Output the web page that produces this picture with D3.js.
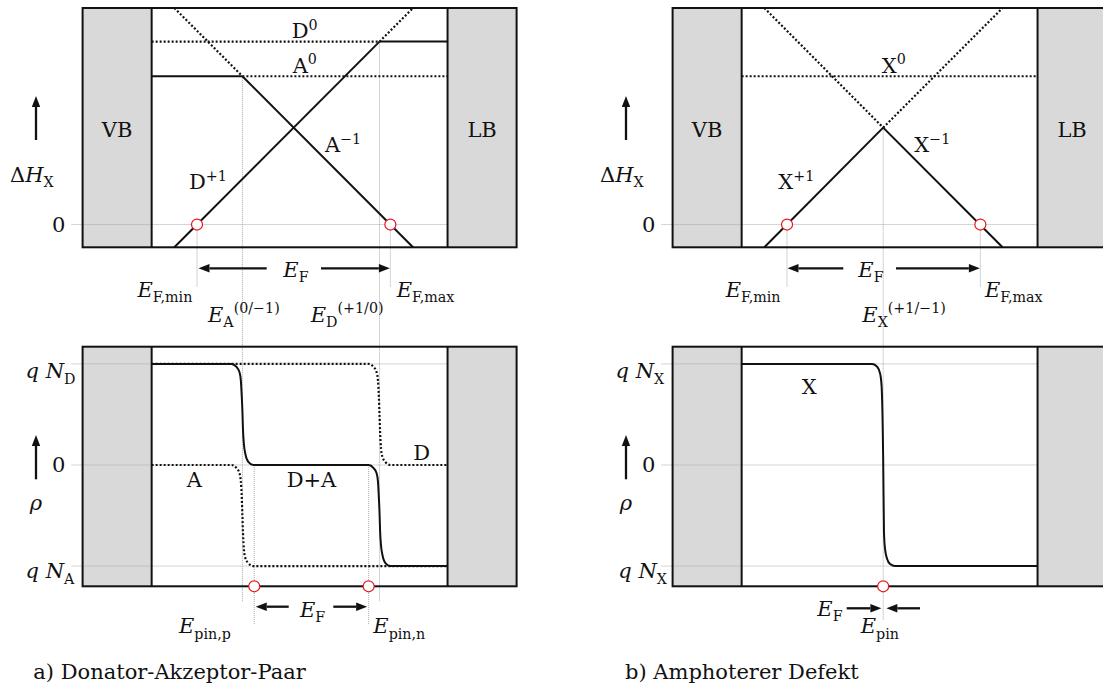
<!DOCTYPE html>
<html><head><meta charset="utf-8">
<script src="https://cdn.jsdelivr.net/npm/d3@7"></script>
<style>
body{margin:0;background:#fff}
text{font-family:"DejaVu Serif",serif;fill:#111}
</style>
</head><body><svg id="c" width="1103" height="688"></svg>
<script>
// ------------------------------------------------------------------
// DATA  (energy E: VB edge = 0, LB edge = 3; formation energy ΔH and
//        charge density ρ in arbitrary units read from the figure)
// ------------------------------------------------------------------
const bandEdges      = [0, 3.0];
const energyExtent   = [-0.7, 3.7];
const dHExtent       = [-0.23, 2.19];
const rhoExtent      = [-1.2, 1.17];
const rhoLevels      = [1, 0, -1];

// a) donor-acceptor pair
const levelEA   = 0.92;   // E_A(0/-1)
const levelED   = 2.31;   // E_D(+1/0)
const efMinA    = 0.46;
const efMaxA    = 2.42;
const pinP      = 1.04;
const pinN      = 2.20;
const donorZeroSolid   = [[2.31, 1.85], [3.0, 1.85]];
const donorZeroDotted  = [[0.0, 1.85], [2.31, 1.85]];
const donorPlusSolid   = [[0.23, -0.23], [2.31, 1.85]];
const donorPlusDotted  = [[2.31, 1.85], [2.65, 2.19]];
const accZeroSolid     = [[0.0, 1.50], [0.92, 1.50]];
const accZeroDotted    = [[0.92, 1.50], [3.0, 1.50]];
const accMinusSolid    = [[0.92, 1.50], [2.65, -0.23]];
const accMinusDotted   = [[0.23, 2.19], [0.92, 1.50]];
const rhoDonor = [[0,1],[2.20,1],[2.25,0.97],[2.28,0.92],[2.294,0.84],[2.304,0.67],[2.31,0.5],
                  [2.316,0.33],[2.326,0.16],[2.34,0.08],[2.37,0.03],[2.42,0],[3.0,0]];
const rhoAcceptor = [[0,0],[0.81,0],[0.86,-0.03],[0.89,-0.08],[0.904,-0.16],[0.914,-0.33],[0.92,-0.5],
                  [0.926,-0.67],[0.936,-0.84],[0.95,-0.92],[0.98,-0.97],[1.03,-1],[3.0,-1]];
const rhoSum = [[0,1],[0.81,1],[0.86,0.97],[0.89,0.92],[0.904,0.84],[0.914,0.67],[0.92,0.54],
                [0.926,0.35],[0.936,0.2],[0.95,0.11],[0.98,0.03],[1.03,0],[2.20,0],[2.25,-0.03],
                [2.28,-0.08],[2.294,-0.16],[2.304,-0.33],[2.31,-0.46],[2.316,-0.65],[2.326,-0.8],
                [2.34,-0.89],[2.37,-0.97],[2.42,-1],[3.0,-1]];

// b) amphoteric defect
const levelEX   = 1.435;  // E_X(+1/-1)
const efMinB    = 0.46;
const efMaxB    = 2.42;
const pinX      = 1.435;
const xZeroDotted  = [[0.0, 1.50], [3.0, 1.50]];
const xPlusSolid   = [[0.23, -0.23], [1.435, 0.98]];
const xPlusDotted  = [[1.435, 0.98], [2.645, 2.19]];
const xMinusSolid  = [[1.435, 0.98], [2.645, -0.23]];
const xMinusDotted = [[0.23, 2.19], [1.435, 0.98]];
const rhoX = [[0,1],[1.325,1],[1.375,0.97],[1.405,0.9],[1.419,0.78],[1.435,0.05],[1.443,-0.67],
              [1.455,-0.84],[1.475,-0.93],[1.505,-0.98],[1.555,-1],[3.0,-1]];

// ------------------------------------------------------------------
const svg = d3.select("#c");
const INK = "#111", GRID = "#a8a8a8", GAP = "#d9d9d9";
const FS = 21;

function rich(g, x, y, parts, anchor = "start", size = FS) {
  const t = g.append("text").attr("x", x).attr("y", y)
    .attr("text-anchor", anchor).style("font-size", size + "px");
  let cur = 0;
  parts.forEach(([txt, kind = ""]) => {
    let target = 0, fs = size;
    if (kind.includes("sub")) { target = 0.25 * size; fs = 0.68 * size; }
    if (kind.includes("sup")) { target = -0.4 * size; fs = 0.68 * size; }
    t.append("tspan").attr("dy", target - cur).style("font-size", fs + "px")
      .style("font-style", kind.includes("i") ? "italic" : "normal").text(txt);
    cur = target;
  });
  return t;
}
function arrow(g, x1, y1, x2, y2) {
  const a = Math.atan2(y2 - y1, x2 - x1), L = 11, W = 4.2;
  const bx = x2 - L * Math.cos(a), by = y2 - L * Math.sin(a);
  g.append("line").attr("x1", x1).attr("y1", y1).attr("x2", bx).attr("y2", by)
    .attr("stroke", INK).attr("stroke-width", 2.3);
  g.append("path").attr("fill", INK)
    .attr("d", `M${x2},${y2}L${bx - W * Math.sin(a)},${by + W * Math.cos(a)}L${bx + W * Math.sin(a)},${by - W * Math.cos(a)}Z`);
}

function panel(offset, cfg) {
  const g = svg.append("g");
  const x = d3.scaleLinear().domain(energyExtent).range([82.6 + offset, 516.6 + offset]);
  const yH = d3.scaleLinear().domain(dHExtent).range([247.3, 8]);
  const yR = d3.scaleLinear().domain(rhoExtent).range([586.3, 346.7]);
  const lineH = d3.line().x(d => x(d[0])).y(d => yH(d[1]));
  const lineR = d3.line().x(d => x(d[0])).y(d => yR(d[1])).curve(d3.curveMonotoneX);

  const idH = "clipH" + offset, idR = "clipR" + offset;
  const defs = svg.append("defs");
  defs.append("clipPath").attr("id", idH).append("rect")
    .attr("x", x(bandEdges[0])).attr("y", yH(dHExtent[1])).attr("width", x(bandEdges[1]) - x(bandEdges[0]))
    .attr("height", yH(dHExtent[0]) - yH(dHExtent[1]));
  defs.append("clipPath").attr("id", idR).append("rect")
    .attr("x", x(bandEdges[0])).attr("y", yR(rhoExtent[1])).attr("width", x(bandEdges[1]) - x(bandEdges[0]))
    .attr("height", yR(rhoExtent[0]) - yR(rhoExtent[1]));

  [[yH(dHExtent[1]), yH(dHExtent[0])], [yR(rhoExtent[1]), yR(rhoExtent[0])]].forEach(([t, b]) => {
    g.append("rect").attr("x", x(energyExtent[0])).attr("y", t).attr("width", x(bandEdges[0]) - x(energyExtent[0]))
      .attr("height", b - t).attr("fill", GAP);
    g.append("rect").attr("x", x(bandEdges[1])).attr("y", t).attr("width", x(energyExtent[1]) - x(bandEdges[1]))
      .attr("height", b - t).attr("fill", GAP);
  });

  const gl = (x1, y1, x2, y2) => g.append("line").attr("x1", x1).attr("y1", y1).attr("x2", x2).attr("y2", y2)
    .attr("stroke", GRID).attr("stroke-width", 1).attr("stroke-dasharray", "1,1");

  gl(x(energyExtent[0]) - 11, yH(0), x(bandEdges[1]), yH(0));
  rhoLevels.forEach(r => gl(x(energyExtent[0]) - 11, yR(r), x(bandEdges[1]), yR(r)));
  cfg.vguides.forEach(v => gl(x(v.e), v.from === "r" ? yR(v.y0) : yH(v.y0), x(v.e), v.y1));

  const gH = g.append("g").attr("clip-path", `url(#${idH})`);
  cfg.hSolid.forEach(d => gH.append("path").attr("d", lineH(d)).attr("fill", "none")
    .attr("stroke", INK).attr("stroke-width", 2));
  cfg.hDotted.forEach(d => gH.append("path").attr("d", lineH(d)).attr("fill", "none")
    .attr("stroke", INK).attr("stroke-width", 2.2).attr("stroke-dasharray", "2,2"));
  const gR = g.append("g").attr("clip-path", `url(#${idR})`);
  cfg.rDotted.forEach(d => gR.append("path").attr("d", lineR(d)).attr("fill", "none")
    .attr("stroke", INK).attr("stroke-width", 2.2).attr("stroke-dasharray", "2,2"));
  cfg.rSolid.forEach(d => gR.append("path").attr("d", lineR(d)).attr("fill", "none")
    .attr("stroke", INK).attr("stroke-width", 2));

  [[yH(dHExtent[1]), yH(dHExtent[0])], [yR(rhoExtent[1]), yR(rhoExtent[0])]].forEach(([t, b]) => {
    g.append("rect").attr("x", x(energyExtent[0])).attr("y", t).attr("width", x(energyExtent[1]) - x(energyExtent[0]))
      .attr("height", b - t).attr("fill", "none").attr("stroke", INK).attr("stroke-width", 2);
    bandEdges.forEach(e => g.append("line").attr("x1", x(e)).attr("x2", x(e)).attr("y1", t).attr("y2", b)
      .attr("stroke", INK).attr("stroke-width", 2));
  });

  cfg.hCircles.forEach(e => g.append("circle").attr("cx", x(e)).attr("cy", yH(0)).attr("r", 5.5)
    .attr("fill", "#fff").attr("stroke", "#e8141a").attr("stroke-width", 1.2));
  cfg.rCircles.forEach(e => g.append("circle").attr("cx", x(e)).attr("cy", yR(rhoExtent[0])).attr("r", 5.5)
    .attr("fill", "#fff").attr("stroke", "#e8141a").attr("stroke-width", 1.2));

  const xm0 = (x(energyExtent[0]) + x(bandEdges[0])) / 2, xm1 = (x(bandEdges[1]) + x(energyExtent[1])) / 2;
  rich(g, xm0, 136.7, [["VB"]], "middle");
  rich(g, xm1, 136.7, [["LB"]], "middle");
  arrow(g, 36 + offset, 140, 36 + offset, 96);
  rich(g, 10 + offset, 181.7, [["Δ"], ["H", "i"], ["X", "sub"]]);
  rich(g, 58.6 + offset, 231.7, [["0"]], "middle");
  arrow(g, 36 + offset, 479.3, 36 + offset, 435);
  rich(g, 36 + offset, 510, [["ρ", "i"]], "middle");
  rich(g, 58.6 + offset, 471.7, [["0"]], "middle");
  rich(g, cfg.qTop[0] + offset, 378.3, [["q", "i"], [" "], ["N", "i"], [cfg.qTop[1], "sub"]]);
  rich(g, cfg.qBot[0] + offset, 578.3, [["q", "i"], [" "], ["N", "i"], [cfg.qBot[1], "sub"]]);
  cfg.labels(g, x);
  return g;
}

panel(0, {
  hSolid: [donorZeroSolid, donorPlusSolid, accZeroSolid, accMinusSolid],
  hDotted: [donorZeroDotted, donorPlusDotted, accZeroDotted, accMinusDotted],
  rSolid: [rhoSum],
  rDotted: [rhoDonor, rhoAcceptor],
  hCircles: [efMinA, efMaxA],
  rCircles: [pinP, pinN],
  vguides: [
    { e: efMinA, y0: 0, y1: 287 }, { e: efMaxA, y0: 0, y1: 287 },
    { e: levelEA, y0: 1.50, y1: 601.7 }, { e: levelED, y0: 1.85, y1: 601.7 },
    { e: pinP, from: "r", y0: 0, y1: 625 }, { e: pinN, from: "r", y0: 0, y1: 625 }
  ],
  qTop: [25.5, "D"], qBot: [25.5, "A"],
  labels: (g, x) => {
    rich(g, 291.7, 38.3, [["D"], ["0", "sup"]]);
    rich(g, 292.7, 72.7, [["A"], ["0", "sup"]]);
    rich(g, 325, 152.3, [["A"], ["−1", "sup"]]);
    rich(g, 189, 189, [["D"], ["+1", "sup"]]);
    arrow(g, 266.7, 268.3, x(efMinA) + 1.5, 268.3);
    arrow(g, 321, 268.3, x(efMaxA) - 0.5, 268.3);
    rich(g, 283.3, 276.7, [["E", "i"], ["F", "sub"]]);
    rich(g, 137.5, 296.7, [["E", "i"], ["F,min", "sub"]]);
    rich(g, 396.7, 296.7, [["E", "i"], ["F,max", "sub"]]);
    rich(g, 208, 321.7, [["E", "i"], ["A", "sub"], ["(0/−1)", "sup"]]);
    rich(g, 310.7, 321.7, [["E", "i"], ["D", "sub"], ["(+1/0)", "sup"]]);
    rich(g, 186.7, 486.7, [["A"]]);
    rich(g, 286.7, 486.7, [["D+A"]]);
    rich(g, 413.3, 460, [["D"]]);
    arrow(g, 288.7, 606.7, x(pinP) + 1.5, 606.7);
    arrow(g, 333.3, 606.7, x(pinN) - 1.5, 606.7);
    rich(g, 300, 616.7, [["E", "i"], ["F", "sub"]]);
    rich(g, 179, 633.3, [["E", "i"], ["pin,p", "sub"]]);
    rich(g, 373.3, 633.3, [["E", "i"], ["pin,n", "sub"]]);
    rich(g, 33.3, 679.3, [["a) Donator-Akzeptor-Paar"]]);
  }
});

panel(590, {
  hSolid: [xPlusSolid, xMinusSolid],
  hDotted: [xZeroDotted, xPlusDotted, xMinusDotted],
  rSolid: [rhoX],
  rDotted: [],
  hCircles: [efMinB, efMaxB],
  rCircles: [pinX],
  vguides: [
    { e: efMinB, y0: 0, y1: 287 }, { e: efMaxB, y0: 0, y1: 287 },
    { e: levelEX, y0: 0.98, y1: 620 }
  ],
  qTop: [25.5, "X"], qBot: [28.3, "X"],
  labels: (g, x) => {
    rich(g, 881.7, 72.7, [["X"], ["0", "sup"]]);
    rich(g, 914.3, 152.3, [["X"], ["−1", "sup"]]);
    rich(g, 778.3, 189, [["X"], ["+1", "sup"]]);
    arrow(g, 843.3, 268.3, x(efMinB) + 0.5, 268.3);
    arrow(g, 896, 268.3, x(efMaxB) - 0.5, 268.3);
    rich(g, 858.3, 276.7, [["E", "i"], ["F", "sub"]]);
    rich(g, 725.7, 296.7, [["E", "i"], ["F,min", "sub"]]);
    rich(g, 985, 296.7, [["E", "i"], ["F,max", "sub"]]);
    rich(g, 862.3, 321.7, [["E", "i"], ["X", "sub"], ["(+1/−1)", "sup"]]);
    rich(g, 801.7, 394, [["X"]]);
    arrow(g, 846.7, 608.3, x(pinX) - 1.8, 608.3);
    arrow(g, 920, 608.3, x(pinX) + 3.2, 608.3);
    rich(g, 817.3, 616, [["E", "i"], ["F", "sub"]]);
    rich(g, 860.7, 633.3, [["E", "i"], ["pin", "sub"]]);
    rich(g, 625, 679.3, [["b) Amphoterer Defekt"]]);
  }
});
</script></body></html>
